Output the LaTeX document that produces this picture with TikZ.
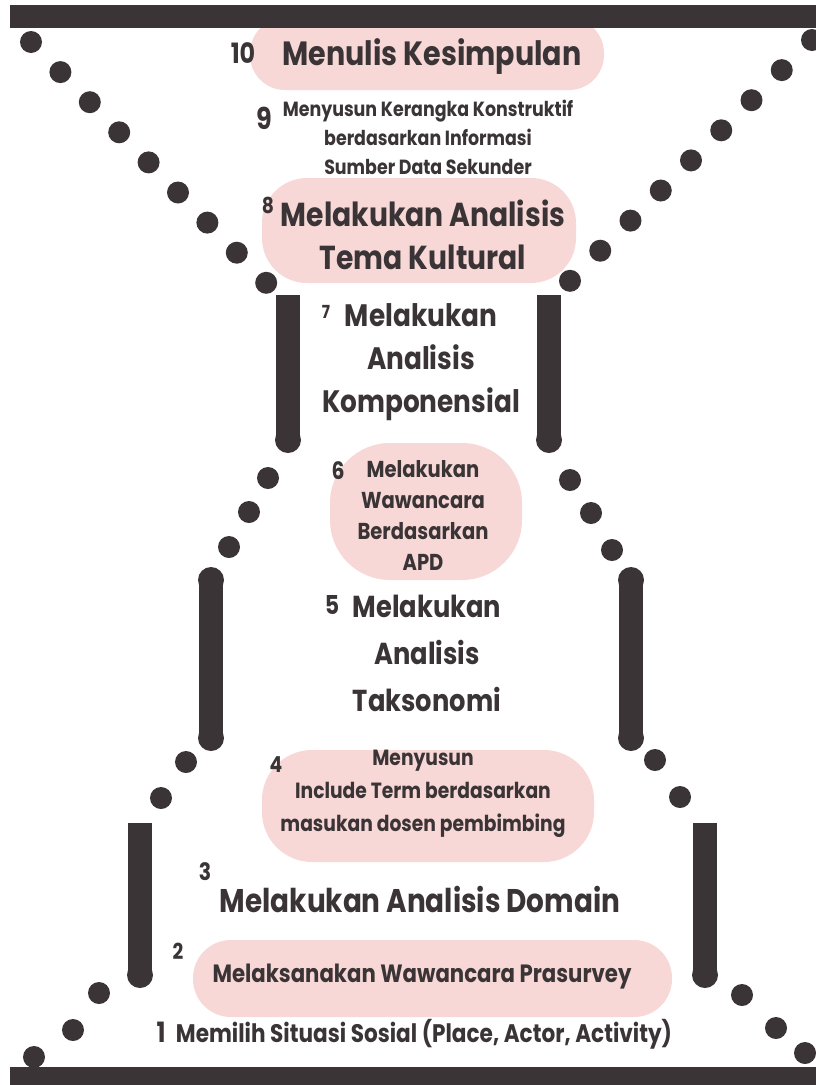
\documentclass[tikz,border=0pt]{standalone}
\usepackage{fontspec}
\setmainfont{Poppins}[FakeStretch=0.85]
\usepackage{tikz}
\definecolor{ink}{RGB}{58,52,54}
\definecolor{blush}{RGB}{247,216,214}
\tikzset{
  % text styles: txt={size}{baselineskip}
  txt/.style 2 args={font=\bfseries\fontsize{#1}{#2}\selectfont,text=ink,align=center,inner sep=0pt},
  numlbl/.style={font=\bfseries\fontsize{#1}{#1}\selectfont,text=ink,inner sep=0pt},
  % hourglass parts
  bead/.style={fill=ink},
  bar/.style={draw=ink,line width=24pt},
  blob/.style={fill=blush,rounded corners=#1},
}
\begin{document}
\begin{tikzpicture}[x=1pt,y=-1pt]
  \useasboundingbox (0,0) rectangle (816,1085);
  \fill[white] (0,0) rectangle (816,1085);
  % pink highlights
  \fill[blob=35pt] (250,18) rectangle (604,90);
  \fill[blob=45pt] (262,178) rectangle (576,283);
  \fill[blob=60pt] (330,443) rectangle (522,580);
  \fill[blob=50pt] (262,750) rectangle (594,862);
  \fill[blob=38pt] (193,940) rectangle (672,1017);
  % top and bottom plates
  \fill[ink] (10,5) rectangle (816,28);
  \fill[ink] (10,1067) rectangle (816,1085);
  % beads of the upper funnel
  \foreach \i in {0,...,8}{
    \fill[bead] ({31+29.4*\i},{42+30.1*\i}) circle (11pt);
    \fill[bead] ({812-30.25*\i},{40+30.1*\i}) circle (11pt);
  }
  % beads further down
  \foreach \x/\y in {268/478, 249/512, 229/547, 186/762, 161/798, 99/993, 73/1030, 34/1057,
                     570/480, 591/513, 612/550, 655/760, 680/797, 742/995, 776/1028, 805/1053}
    \fill[bead] (\x,\y) circle (11pt);
  % bars
  \draw[bar] (288,295) -- (288,440);
  \draw[bar] (549,295) -- (549,440);
  \draw[bar] (211,580) -- (211,738);
  \draw[bar] (631,580) -- (631,738);
  \draw[bar] (140,823) -- (140,975);
  \draw[bar] (705,823) -- (705,975);
  \foreach \x/\y in {288/440, 549/440, 211/580, 211/738, 631/580, 631/738, 140/975, 705/975}
    \fill[bead] (\x,\y) circle (13pt);
  % steps
  \node[numlbl=28] (n10) at (243,53) {10};
  \node[txt={33.6}{36}] (t10) at (432,57) {Menulis Kesimpulan};
  \node[numlbl=30] (n9) at (264,118) {9};
  \node[txt={20.5}{29}] (t9) at (428,137) {Menyusun Kerangka Konstruktif\\berdasarkan Informasi\\Sumber Data Sekunder};
  \node[numlbl=22] (n8) at (268,205) {8};
  \node[txt={33.2}{43}] (t8) at (423,235) {Melakukan Analisis\\Tema Kultural};
  \node[numlbl=18] (n7) at (326,312) {7};
  \node[txt={31}{43}] (t7) at (421,362) {Melakukan\\Analisis\\Komponensial};
  \node[numlbl=24] (n6) at (338,471) {6};
  \node[txt={23}{31}] (t6) at (423,515) {Melakukan\\Wawancara\\Berdasarkan\\APD};
  \node[numlbl=26] (n5) at (332,605) {5};
  \node[txt={30.3}{47}] (t5) at (427,653) {Melakukan\\Analisis\\Taksonomi};
  \node[numlbl=22] (n4) at (276,765) {4};
  \node[txt={22}{33}] (t4) at (423,794) {Menyusun\\Include Term berdasarkan\\masukan dosen pembimbing};
  \node[numlbl=24] (n3) at (205,872) {3};
  \node[txt={32.8}{36}] (t3) at (420,899) {Melakukan Analisis Domain};
  \node[numlbl=22] (n2) at (178,951) {2};
  \node[txt={25}{28}] (t2) at (422,977) {Melaksanakan Wawancara Prasurvey};
  \node[numlbl=28] (n1) at (161,1032) {1};
  \node[txt={25.4}{28}] (t1) at (424,1034) {Memilih Situasi Sosial (Place, Actor, Activity)};
\end{tikzpicture}
\end{document}
